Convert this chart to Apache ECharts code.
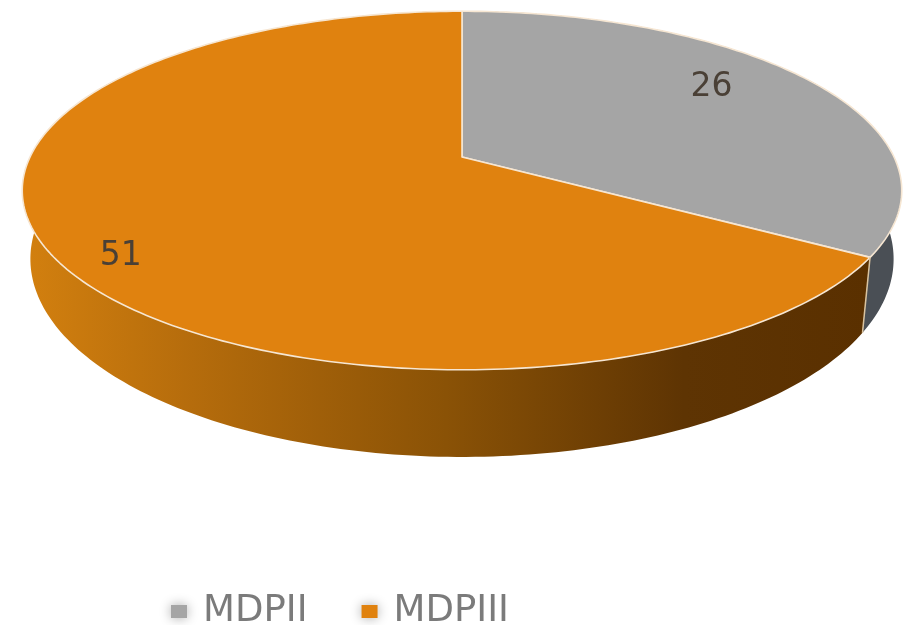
<!DOCTYPE html>
<html>
<head>
<meta charset="utf-8">
<style>html,body{margin:0;padding:0;background:#fff}#chart{width:912px;height:625px}</style>
<script src="https://cdn.jsdelivr.net/npm/echarts@6/dist/echarts.min.js"></script>
</head>
<body>
<div id="chart"></div>
<script>
const names = ["MDPII", "MDPIII"];
const values = [26, 51];
const topColors = ["#a5a5a5", "#e0820f"];
const sideColors = ["#4a4f55", null];

// perspective of the disc: top face and bottom face
const topFace = { cx: 462, cy: 157, a: 432, b: 173, k: 0.187 };
const botFace = { cx: 462, cy: 222, a: 424, b: 191, k: 0.187 };
const labelSkew = -6.2;
const labelPull = [0.768, 0.877];

const total = values.reduce((s, v) => s + v, 0);

function project(face, deg, r) {
  const t = deg * Math.PI / 180;
  const u = r * Math.sin(t), v = r * Math.cos(t);
  const w = 1 + face.k * v;
  return [face.cx + face.a * u / w, face.cy - face.b * v / w];
}

function arc(face, from, to) {
  const pts = [];
  for (let d = from; d < to; d += 1) pts.push(project(face, d, 1));
  pts.push(project(face, to, 1));
  return pts;
}

const sideGradient = new echarts.graphic.LinearGradient(0, 0, 1, 0, [
  { offset: 0, color: "#d3800f" },
  { offset: 0.2, color: "#b56c0c" },
  { offset: 0.5, color: "#8a5206" },
  { offset: 0.78, color: "#5e3403" },
  { offset: 1, color: "#5a3000" }
]);

function renderSlice(i) {
  return (params, api) => {
    const before = values.slice(0, i).reduce((s, v) => s + v, 0);
    const from = before / total * 360;
    const to = (before + api.value(0)) / total * 360;
    const mid = (from + to) / 2 + labelSkew;
    const top = arc(topFace, from, to);
    const bottom = arc(botFace, from, to).reverse();
    const lp = project(topFace, mid, labelPull[i]);
    const children = [
      { type: "polygon", shape: { points: top.concat(bottom) },
        style: { fill: sideColors[i] || sideGradient } },
      { type: "polygon", shape: { points: [[topFace.cx, topFace.cy]].concat(top) },
        style: { fill: topColors[i], stroke: "#f6e6d2", lineWidth: 1.6, lineJoin: "round" } },
      { type: "text", style: { x: lp[0], y: lp[1] + 2, text: String(api.value(0)),
        font: "33px 'DejaVu Sans'", fill: "#4a4036", align: "center", verticalAlign: "middle" } }
    ];
    if (i === 1) {
      children.push({ type: "polyline",
        shape: { points: [project(topFace, from, 1), project(botFace, from, 1)] },
        style: { stroke: "#d9c3a0", lineWidth: 1.5, fill: null } });
    }
    return { type: "group", children };
  };
}

const chart = echarts.init(document.getElementById("chart"), null, { renderer: "canvas" });
chart.setOption({
  animation: false,
  legend: {
    data: names,
    left: 166,
    top: 588,
    itemWidth: 16,
    itemHeight: 13,
    itemGap: 54,
    icon: "rect",
    itemStyle: { borderWidth: 0, shadowBlur: 12, shadowColor: "#a8a8a8" },
    textStyle: { fontFamily: "DejaVu Sans", fontSize: 37, color: "#7b7b7b", padding: [0, 0, 0, 11] }
  },
  series: names.map((name, i) => ({
    type: "custom",
    name,
    coordinateSystem: "none",
    silent: true,
    itemStyle: { color: topColors[i] },
    data: [[values[i]]],
    renderItem: renderSlice(i)
  }))
});
</script>
</body>
</html>
